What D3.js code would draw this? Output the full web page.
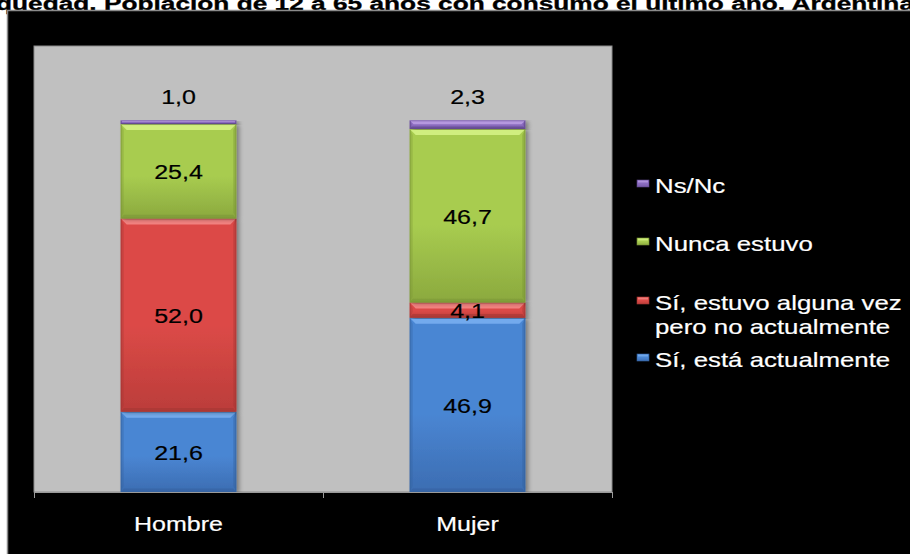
<!DOCTYPE html>
<html>
<head>
<meta charset="utf-8">
<script src="https://cdnjs.cloudflare.com/ajax/libs/d3/7.8.5/d3.min.js"></script>
<style>
  html, body { margin: 0; padding: 0; background: #ffffff; }
  svg { display: block; }
  text { font-family: "Liberation Sans", Arial, sans-serif; }
</style>
</head>
<body>
<svg id="chart" width="910" height="554"></svg>
<script>
// Chart data
const titleText = "quedad. Población de 12 a 65 años con consumo el último año. Argentina";
const categories = ["Hombre", "Mujer"];
const seriesNames = ["Sí, está actualmente", "Sí, estuvo alguna vez pero no actualmente", "Nunca estuvo", "Ns/Nc"];
const actualmente = [21.6, 46.9];
const algunaVez = [52.0, 4.1];
const nuncaEstuvo = [25.4, 46.7];
const nsnc = [1.0, 2.3];
const legendLines = [["Ns/Nc"], ["Nunca estuvo"], ["Sí, estuvo alguna vez", "pero no actualmente"], ["Sí, está actualmente"]];

const seriesKeys = ["actual", "alguna", "nunca", "nsnc"];
const palette = {
  actual: { base: "#4a86d3", light: "#78aef0", dark: "#34619e", bottom: "#3c6db2" },
  alguna: { base: "#dc4a47", light: "#f48886", dark: "#a33633", bottom: "#bb3d3a" },
  nunca:  { base: "#a8cc50", light: "#d4f284", dark: "#7a9536", bottom: "#8ba93e" },
  nsnc:   { base: "#8b6cc0", light: "#b99de2", dark: "#5d4589", bottom: "#765aa8" }
};

const rows = categories.map((c, i) => ({
  cat: c, actual: actualmente[i], alguna: algunaVez[i], nunca: nuncaEstuvo[i], nsnc: nsnc[i]
}));

const svg = d3.select("#chart");
const fmt = v => d3.format(".1f")(v).replace(".", ",");

// Labels are drawn slightly widened and with a hairline outline for weight
function stretchedText(parent, x, y, str, size, fill, anchor, sx) {
  return parent.append("text")
    .attr("transform", `translate(${x},${y}) scale(${sx || 1.25},1)`)
    .attr("text-anchor", anchor || "middle")
    .attr("font-size", size)
    .attr("fill", fill)
    .attr("stroke", fill).attr("stroke-width", 0.2)
    .text(str);
}

// Title strip
svg.append("text")
  .attr("x", -4).attr("y", 10)
  .attr("font-size", 18).attr("font-weight", "bold")
  .attr("fill", "#000").attr("stroke", "#000").attr("stroke-width", 0.3)
  .attr("textLength", 918).attr("lengthAdjust", "spacingAndGlyphs")
  .text(titleText);

// Chart frame
svg.append("rect")
  .attr("x", 7.5).attr("y", 10.5).attr("width", 910).attr("height", 560)
  .attr("fill", "#000").attr("stroke", "#8a8a8a").attr("stroke-width", 1.5);

// Plot area
const plot = { left: 34, right: 612, top: 46, bottom: 492 };
svg.append("rect")
  .attr("x", plot.left).attr("y", plot.top)
  .attr("width", plot.right - plot.left).attr("height", plot.bottom - plot.top)
  .attr("fill", "#c0c0c0").attr("stroke", "#8c8c8c").attr("stroke-width", 1);

const x = d3.scaleBand().domain(categories).range([plot.left, plot.right])
  .paddingInner(0.6).paddingOuter(0.3);
const xAxisScale = d3.scaleBand().domain(categories).range([plot.left, plot.right]);
const y = d3.scaleLinear().domain([0, 120]).range([plot.bottom, plot.top]);

// Gradients
const defs = svg.append("defs");
seriesKeys.forEach(k => {
  const g = defs.append("linearGradient").attr("id", "g-" + k)
    .attr("x1", 0).attr("y1", 0).attr("x2", 0).attr("y2", 1);
  g.append("stop").attr("offset", "0%").attr("stop-color", palette[k].base);
  g.append("stop").attr("offset", "55%").attr("stop-color", palette[k].base);
  g.append("stop").attr("offset", "100%").attr("stop-color", palette[k].bottom);
});
const shadow = defs.append("filter").attr("id", "barShadow")
  .attr("x", "-10%").attr("y", "-5%").attr("width", "130%").attr("height", "110%");
shadow.append("feGaussianBlur").attr("in", "SourceAlpha").attr("stdDeviation", 2);
shadow.append("feOffset").attr("dx", 3).attr("dy", 1).attr("result", "off");
shadow.append("feComponentTransfer").append("feFuncA").attr("type", "linear").attr("slope", 0.35);
const merge = shadow.append("feMerge");
merge.append("feMergeNode");
merge.append("feMergeNode").attr("in", "SourceGraphic");

const stack = d3.stack().keys(seriesKeys);
const stacked = stack(rows);

// Bevelled bar segments
const bars = svg.append("g");
stacked.forEach(layer => {
  const k = layer.key;
  layer.forEach((d, i) => {
    const x0 = x(rows[i].cat), w = x.bandwidth();
    const yTop = y(d[1]), yBot = y(d[0]), h = yBot - yTop;
    const b = Math.min(6, h / 2.2);
    const seg = bars.append("g");
    seg.append("rect").attr("x", x0).attr("y", yTop).attr("width", w).attr("height", h)
      .attr("fill", `url(#g-${k})`).attr("filter", "url(#barShadow)");
    // top highlight
    seg.append("polygon")
      .attr("points", `${x0},${yTop} ${x0 + w},${yTop} ${x0 + w - b},${yTop + b} ${x0 + b},${yTop + b}`)
      .attr("fill", palette[k].light).attr("opacity", 0.9);
    // sides
    seg.append("polygon")
      .attr("points", `${x0},${yTop} ${x0 + b * 0.5},${yTop + b} ${x0 + b * 0.5},${yBot - b} ${x0},${yBot}`)
      .attr("fill", palette[k].dark).attr("opacity", 0.35);
    seg.append("polygon")
      .attr("points", `${x0 + w},${yTop} ${x0 + w - b * 0.5},${yTop + b} ${x0 + w - b * 0.5},${yBot - b} ${x0 + w},${yBot}`)
      .attr("fill", palette[k].dark).attr("opacity", 0.45);
    // bottom shade
    seg.append("polygon")
      .attr("points", `${x0},${yBot} ${x0 + b * 0.5},${yBot - b * 0.6} ${x0 + w - b * 0.5},${yBot - b * 0.6} ${x0 + w},${yBot}`)
      .attr("fill", palette[k].dark).attr("opacity", 0.55);
    seg.append("rect").attr("x", x0 + 0.5).attr("y", yTop + 0.5).attr("width", w - 1).attr("height", Math.max(0, h - 1))
      .attr("fill", "none").attr("stroke", palette[k].dark).attr("stroke-opacity", 0.5).attr("stroke-width", 1);
  });
});

// Value labels
const labels = svg.append("g");
stacked.forEach(layer => {
  layer.forEach((d, i) => {
    const cx = x(rows[i].cat) + x.bandwidth() / 2;
    const v = d[1] - d[0];
    if (layer.key === "nsnc") {
      stretchedText(labels, cx, y(d[1]) - 16, fmt(v), 20, "#000");
    } else {
      const cy = (y(d[0]) + y(d[1])) / 2 + 8;
      stretchedText(labels, cx, cy, fmt(v), 20, "#000");
    }
  });
});

// Category axis
const axis = svg.append("g");
axis.append("line").attr("x1", plot.left).attr("x2", plot.right)
  .attr("y1", plot.bottom + 0.5).attr("y2", plot.bottom + 0.5)
  .attr("stroke", "#9a9a9a").attr("stroke-width", 1.2);
const tickXs = categories.map(c => xAxisScale(c)).concat([xAxisScale(categories[categories.length - 1]) + xAxisScale.bandwidth()]);
tickXs.forEach(tx => {
  axis.append("line").attr("x1", tx + 0.5).attr("x2", tx + 0.5)
    .attr("y1", plot.bottom).attr("y2", plot.bottom + 6)
    .attr("stroke", "#9a9a9a").attr("stroke-width", 1);
});
categories.forEach(c => {
  stretchedText(axis, xAxisScale(c) + xAxisScale.bandwidth() / 2, 531, c, 20, "#fff");
});

// Legend
const legend = svg.append("g");
const legendKeys = ["nsnc", "nunca", "alguna", "actual"];
const legendBase = [193, 251, 310, 367];
legendKeys.forEach((k, i) => {
  const by = legendBase[i];
  legend.append("rect").attr("x", 637).attr("y", by - 13).attr("width", 12).attr("height", 7)
    .attr("fill", `url(#g-${k})`).attr("stroke", palette[k].dark).attr("stroke-width", 0.6);
  legend.append("rect").attr("x", 638).attr("y", by - 12.5).attr("width", 10).attr("height", 2)
    .attr("fill", palette[k].light).attr("opacity", 0.8);
  legendLines[i].forEach((line, j) => {
    stretchedText(legend, 655, by + j * 24, line, 20, "#fff", "start", 1.29);
  });
});
</script>
</body>
</html>
